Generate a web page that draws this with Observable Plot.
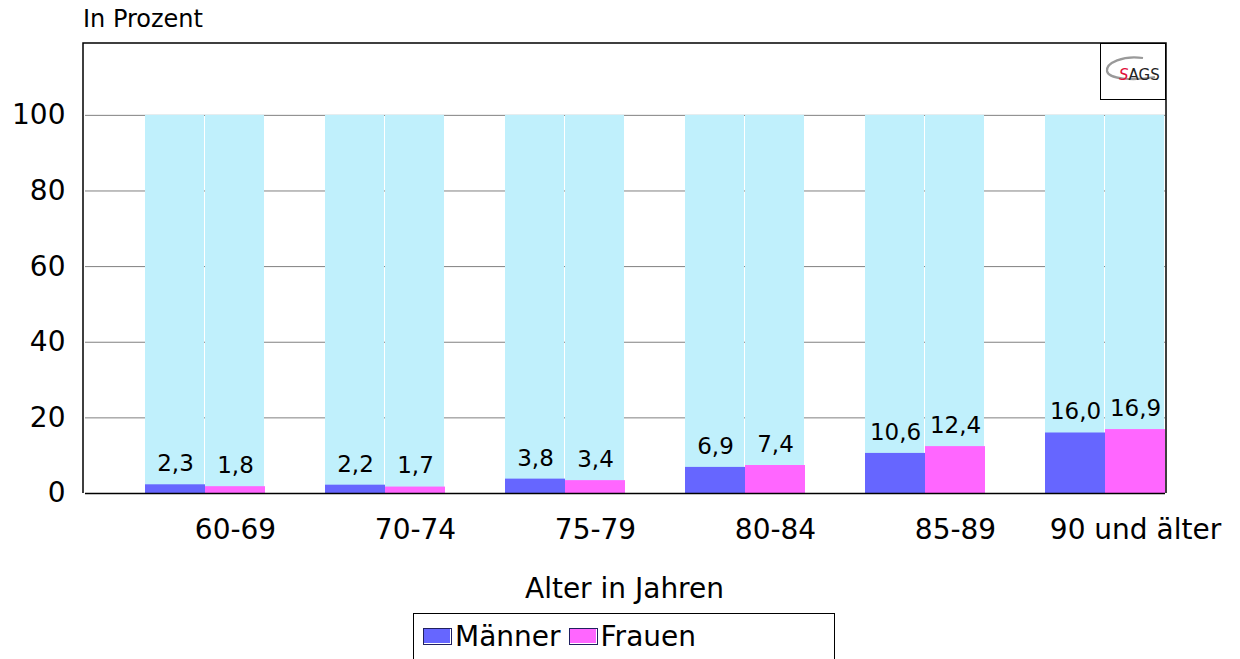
<!DOCTYPE html>
<html lang="de">
<head>
<meta charset="utf-8">
<script src="https://cdn.jsdelivr.net/npm/d3@7"></script>
<script src="https://cdn.jsdelivr.net/npm/@observablehq/plot@0.6"></script>
<style>
  html, body { margin: 0; padding: 0; background: #fff; }
  #chart { position: relative; width: 1240px; height: 659px; overflow: hidden; font-family: "DejaVu Sans", Verdana, sans-serif; color: #000; }
  #chart svg { position: absolute; left: 0; top: 0; }
  .ylab { position: absolute; left: 83px; top: 5px; font-size: 24px; }
  .xlab { position: absolute; left: 83px; width: 1083px; top: 572px; text-align: center; font-size: 28px; }
  .legend { position: absolute; left: 413px; top: 613px; width: 422px; height: 60px; border: 1.5px solid #000; box-sizing: border-box; display: flex; align-items: center; padding-left: 9px; padding-bottom: 14px; font-size: 28px; }
  .legend .item { display: flex; align-items: center; margin-right: 8px; }
  .legend .sw { width: 27px; height: 15px; border: 1px solid #202060; box-shadow: inset -1px -1px 0 #fff; margin-right: 3px; }
  .logo { position: absolute; left: 1100px; top: 43px; width: 66px; height: 57px; border: 1.5px solid #000; box-sizing: border-box; background: #fff; }
</style>
</head>
<body>
<div id="chart"></div>
<script>
// Anteil pflegebedürftiger Personen nach Altersgruppe und Geschlecht (in Prozent)
const ageGroups = ["60-69", "70-74", "75-79", "80-84", "85-89", "90 und älter"];
const sexes = ["Männer", "Frauen"];
const menValues = [2.3, 2.2, 3.8, 6.9, 10.6, 16.0];
const womenValues = [1.8, 1.7, 3.4, 7.4, 12.4, 16.9];
const totalShare = 100;
const yTicks = [0, 20, 40, 60, 80, 100];
const colors = { "Männer": "#6666ff", "Frauen": "#ff66ff" };
const backgroundColor = "#c0f0fc";

const rows = ageGroups.flatMap((g, i) => [
  { group: g, sex: "Männer", value: menValues[i], total: totalShare },
  { group: g, sex: "Frauen", value: womenValues[i], total: totalShare }
]);

const de = d3.formatLocale({ decimal: ",", thousands: ".", grouping: [3], currency: ["", " €"] });
const fmt = de.format(".1f");

const W = 1240, H = 612;
const margin = { top: 43, right: 74, bottom: 119, left: 83 };

const chart = Plot.plot({
  width: W,
  height: H,
  marginTop: margin.top,
  marginRight: margin.right,
  marginBottom: margin.bottom,
  marginLeft: margin.left,
  style: { fontFamily: "DejaVu Sans, Verdana, sans-serif", color: "#000", background: "transparent" },
  fx: { domain: ageGroups, padding: 0, label: null },
  x: { domain: sexes, paddingInner: 0, paddingOuter: 0.5, align: 1, axis: null },
  y: { domain: [0, 119], axis: null },
  marks: [
    Plot.ruleY(yTicks.filter(t => t > 0), { stroke: "#808080", strokeWidth: 1 }),
    Plot.barY(rows, { fx: "group", x: "sex", y: "total", fill: backgroundColor, insetRight: 1 }),
    Plot.barY(rows, { fx: "group", x: "sex", y: "value", fill: d => colors[d.sex] }),
    Plot.text(rows, { fx: "group", x: "sex", y: "value", text: d => fmt(d.value), dy: -21, fontSize: 23, fill: "#000" }),
    Plot.ruleY([0], { stroke: "#000", strokeWidth: 1.5 }),
    Plot.axisY(yTicks, { tickSize: 0, tickPadding: 20, fontSize: 28, label: null }),
    Plot.axisFx({ anchor: "bottom", tickSize: 0, tickPadding: 26, fontSize: 28, dx: 60, label: null })
  ]
});

const root = document.getElementById("chart");
root.appendChild(chart);

// Plot frame (left, top, right) drawn once over all facets
d3.select(chart).append("path")
  .attr("d", `M${margin.left},${H - margin.bottom}V${margin.top}H${W - margin.right}V${H - margin.bottom}`)
  .attr("fill", "none").attr("stroke", "#000").attr("stroke-width", 1.5);

const ylab = document.createElement("div");
ylab.className = "ylab"; ylab.textContent = "In Prozent";
root.appendChild(ylab);

const xlab = document.createElement("div");
xlab.className = "xlab"; xlab.textContent = "Alter in Jahren";
root.appendChild(xlab);

const legend = document.createElement("div");
legend.className = "legend";
legend.innerHTML = sexes.map(s =>
  `<span class="item"><span class="sw" style="background:${colors[s]}"></span>${s}</span>`).join("");
root.appendChild(legend);

const logo = document.createElement("div");
logo.className = "logo";
logo.innerHTML = `<svg width="63" height="54" viewBox="0 0 63 54">
  <path d="M42,14 C22,11 5,19 6,27 C7,35 32,37 54,33" fill="none" stroke="#999" stroke-width="2.2"/>
  <text x="18" y="36" font-family="DejaVu Sans, sans-serif" font-size="15" fill="#222"><tspan fill="#e0103c" font-style="italic">S</tspan>AGS</text>
</svg>`;
root.appendChild(logo);
</script>
</body>
</html>
